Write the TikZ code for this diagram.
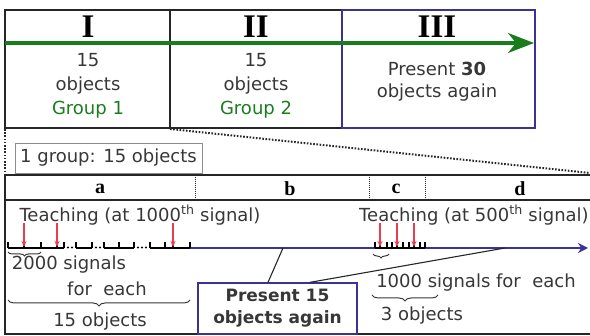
\documentclass[tikz,border=0pt]{standalone}
\usepackage{fontspec}
\setmainfont{DejaVu Sans}
\newfontfamily\hdfont{Liberation Serif}
\usetikzlibrary{arrows.meta,decorations.pathreplacing}
\definecolor{grn}{RGB}{25,125,30}
\definecolor{blu}{RGB}{60,50,150}
\definecolor{rd}{RGB}{235,60,80}
\definecolor{txt}{RGB}{55,55,55}
\tikzset{
  frame/.style={line width=1.6pt, black!85},
  bframe/.style={line width=1.3pt, blu},
  hdr/.style={font=\hdfont\fontsize{33}{33}\selectfont\bfseries, inner sep=0pt},
  lbl/.style={font=\hdfont\fontsize{20}{20}\selectfont\bfseries, inner sep=0pt},
  coltxt/.style={font=\fontsize{18}{24}\selectfont, text=txt, align=center, inner sep=0pt},
  tx/.style={font=\fontsize{18}{20}\selectfont, text=txt, inner sep=0pt},
  dotline/.style={line width=2pt, dash pattern=on 1.6pt off 1.6pt, black!85},
  div/.style={line width=1pt, densely dotted, black!85},
  redarrow/.style={rd, line width=1.1pt, -{Stealth[length=6pt,width=5pt]}},
  tick/.style={line width=1.2pt, black},
  brc/.style={decorate, decoration={brace, mirror, amplitude=6pt}, line width=1pt, txt},
  sbrc/.style={decorate, decoration={brace, mirror, amplitude=4pt}, line width=1pt, txt},
}
\begin{document}
\begin{tikzpicture}[x=1pt,y=-1pt]
\useasboundingbox (0,0) rectangle (590,336);
% ---------- top table
\draw[frame] (170,10) -- (5,10) -- (5,128) -- (342,128);
\draw[frame] (170,10) -- (342,10);
\draw[frame] (170,10) -- (170,128);
\draw[bframe] (342,10) rectangle (535,128);
\coordinate (gs) at (5,43);
\coordinate (ge) at (534,43);
\draw[grn, line width=3.2pt, -{Stealth[length=26pt,width=20pt,inset=8pt]}] (gs) -- (ge);
\node[hdr] (hI) at (88,27) {I};
\node[hdr] (hII) at (256,27) {II};
\node[hdr] (hIII) at (437,27) {III};
\node[coltxt] (c1) at (88,86) {15\\objects\\\textcolor{grn}{Group 1}};
\node[coltxt] (c2) at (256,86) {15\\objects\\\textcolor{grn}{Group 2}};
\node[coltxt, font=\fontsize{18}{22}\selectfont] (c3) at (437,82) {Present \textbf{30}\\objects again};
% ---------- zoom lines
\coordinate (z0) at (5,129);
\coordinate (z1) at (5,175);
\coordinate (z2) at (170,129);
\coordinate (z3) at (590,173);
\draw[dotline] (z0) -- (z1);
\draw[dotline] (z2) -- (z3);
\node[draw=black!45, line width=0.9pt, minimum width=187pt, minimum height=30pt, inner sep=0pt,
      font=\fontsize{18}{20}\selectfont, text=txt] (grp) at (108.5,158) {1 group: 15 objects};
% ---------- bottom table
\draw[frame] (590,175) -- (5,175) -- (5,334) -- (590,334);
\draw[frame] (5,200) -- (590,200);
\draw[div] (195,175) -- (195,200);
\draw[div] (369,175) -- (369,200);
\draw[div] (425,175) -- (425,200);
\node[lbl] (la) at (100,189) {a};
\node[lbl] (lb) at (290,189) {b};
\node[lbl] (lc) at (396,189) {c};
\node[lbl] (ld) at (520,189) {d};
\node[tx] (t1000) at (140,215) {Teaching (at 1000\textsuperscript{th} signal)};
\node[tx] (t500) at (474,215) {Teaching (at 500\textsuperscript{th} signal)};
% ---------- timeline
\coordinate (b0) at (190,248);
\coordinate (b1) at (588,248);
\draw[blu, line width=2pt, -{Stealth[length=10pt,width=10pt]}] (b0) -- (b1);
\draw[line width=2.2pt, black] (8,248) -- (64,248) (76,248) -- (92,248) (104,248) -- (134,248) (150,248) -- (190,248);
\foreach \x in {8,24,41,57,64,76,92,104,119,134,150,165,173,190} \draw[tick] (\x,248) -- (\x,242);
\foreach \x in {68,72,96,100,138,142,146} \fill (\x,247.5) circle (1.1pt);
\foreach \x in {375,380,387,392,397,403,409,414,420,425} \draw[tick] (\x,248) -- (\x,242);
\draw[line width=2pt, black] (375,248) -- (425,248);
\foreach \x/\n in {24/r1,57/r2,173/r3,380/r4,397/r5,414/r6} {
  \coordinate (\n s) at (\x,223);
  \coordinate (\n e) at (\x,247);
  \draw[redarrow] (\n s) -- (\n e);
}
% braces and labels
\draw[sbrc] (8,252) -- (41,252);
\draw[sbrc] (373,254) -- (389,254);
\draw[brc] (8,300) -- (190,300);
\draw[brc] (372,295) -- (438,295);
\node[tx] (s2000) at (69,265) {2000 signals};
\node[tx] (feach) at (107,289) {for\ \ each};
\node[tx] (o15) at (100,322) {15 objects};
\node[tx] (s1000) at (476,283) {1000 signals for\ \ each};
\node[tx] (o3) at (422,316) {3 objects};
% present box
\node[draw=blu, line width=1.3pt, minimum width=159pt, minimum height=51pt, inner sep=0pt,
      align=center, font=\fontsize{17}{22}\selectfont\bfseries, text=txt] (pbox) at (277.5,308.5) {Present 15\\objects again};
\coordinate (m1) at (283,248);
\coordinate (m2) at (505,248);
\draw[line width=1.1pt, black!85] ([xshift=-9.5pt]pbox.north) -- (m1);
\draw[line width=1.1pt, black!85] ([xshift=32.5pt]pbox.north) -- (m2);
\end{tikzpicture}
\end{document}
